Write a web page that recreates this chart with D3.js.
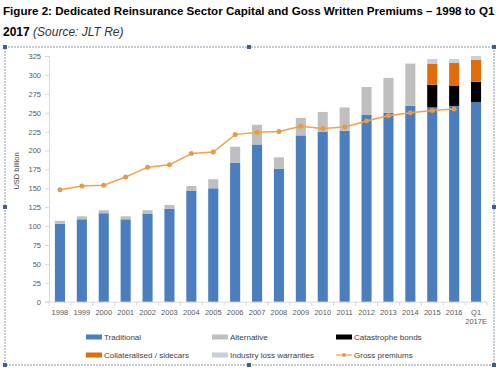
<!DOCTYPE html>
<html>
<head>
<meta charset="utf-8">
<script src="https://cdn.jsdelivr.net/npm/d3@7"></script>
<style>
body{margin:0;background:#fff;}
.plot{width:500px;height:377px;}
text{font-family:"Liberation Sans",Arial,sans-serif;}
</style>
</head>
<body>
<div class="plot"></div>
<script>
var years = ['1998','1999','2000','2001','2002','2003','2004','2005','2006','2007','2008','2009','2010','2011','2012','2013','2014','2015','2016','Q1 2017E'];
var traditional = [103,109,117,109,116,123,147,150,184,208,176,220,225,226,247,250,259,257,259,264];
var alternative = [4,4,4,4,5,5,6,12,21,26,15,23,26,31,37,46,56,0,0,0];
var catBonds = [0,0,0,0,0,0,0,0,0,0,0,0,0,0,0,0,0,30,27,27];
var collateralised = [0,0,0,0,0,0,0,0,0,0,0,0,0,0,0,0,0,28,30,29];
var ilw = [0,0,0,0,0,0,0,0,0,0,0,0,0,0,0,0,0,6,5,5];
var grossPremiums = [148,153,154,165,178,181,196,198,221,224,225,232,229,231,239,246,250,253,255,null];
var yTicks = [0,25,50,75,100,125,150,175,200,225,250,275,300,325];

var seriesNames = ['Traditional','Alternative','Catastrophe bonds','Collateralised / sidecars','Industry loss warranties'];
var colors = ['#4a7ebe','#bfbfbf','#000000','#e36c0a','#c6d0dc'];
var lineColor = '#f2a24a';

var W = 500, H = 377;
var m = {l:49, r:487, t:56, b:301.7};

var table = years.map(function(y,i){
    return {year:y, 'Traditional':traditional[i], 'Alternative':alternative[i],
        'Catastrophe bonds':catBonds[i], 'Collateralised / sidecars':collateralised[i],
        'Industry loss warranties':ilw[i]};
});
var stacked = d3.stack().keys(seriesNames)(table);

var svg = d3.select('.plot').append('svg')
    .attr('width',W)
    .attr('height',H);

// title
var t1 = svg.append('text').attr('x',3).attr('y',14.5)
    .style('font-weight','bold').style('font-size','12px').attr('fill','#000');
t1.text('Figure 2: Dedicated Reinsurance Sector Capital and Goss Written Premiums \u2013 1998 to Q1');
// shrink the font a bit so the whole line stays on the page
var fs = 12;
while(t1.node().getComputedTextLength() > 493 && fs > 9){
    fs -= 0.1;
    t1.style('font-size', fs+'px');
}
var t2 = svg.append('text').attr('x',3).attr('y',36).style('font-size','12px').attr('fill','#000');
t2.append('tspan').style('font-weight','bold').text('2017');
t2.append('tspan').style('font-style','italic').attr('fill','#333').text(' (Source: JLT Re)');

var x = d3.scaleBand().domain(years).range([m.l,m.r]).paddingInner(0.54).paddingOuter(0.27);
var y = d3.scaleLinear().domain([0,325]).range([m.b,m.t]);

// axes
var yAxis = svg.append('g').attr('transform','translate('+m.l+',0)')
    .call(d3.axisLeft(y).tickValues(yTicks).tickSize(4).tickPadding(4));
yAxis.select('.domain').attr('stroke','#d9d9d9');
yAxis.selectAll('.tick line').attr('stroke','#d9d9d9');
yAxis.selectAll('.tick text').attr('fill','#595959').style('font-size','7.5px')
    .style('font-family','"Liberation Sans",Arial,sans-serif');

var xAxis = svg.append('g').attr('transform','translate(0,'+m.b+')')
    .call(d3.axisBottom(x).tickSize(0).tickPadding(8));
xAxis.select('.domain').attr('stroke','#d9d9d9');
xAxis.selectAll('.tick text').attr('fill','#595959').style('font-size','7.5px')
    .style('font-family','"Liberation Sans",Arial,sans-serif')
    .each(function(d){
        if(d.indexOf(' ')>0){
            var parts = d.split(' '), el = d3.select(this);
            el.text(null);
            el.append('tspan').attr('x',0).text(parts[0]);
            el.append('tspan').attr('x',0).attr('dy','1.25em').text(parts[1]);
        }
    });
// small ticks between categories
var step = x.step();
svg.append('g').selectAll('line')
    .data(d3.range(years.length+1))
    .enter().append('line')
    .attr('x1',function(i){return m.l + i*step})
    .attr('x2',function(i){return m.l + i*step})
    .attr('y1',m.b).attr('y2',m.b+4)
    .attr('stroke','#d9d9d9');

svg.append('text')
    .attr('transform','translate(19,171) rotate(-90)')
    .attr('text-anchor','middle')
    .attr('fill','#404040')
    .style('font-size','7.5px')
    .text('USD billion');

// bars
svg.append('g').selectAll('g')
    .data(stacked)
    .enter().append('g')
    .attr('fill',function(d,i){return colors[i]})
    .selectAll('rect')
    .data(function(d){return d})
    .enter().append('rect')
    .attr('x',function(d){return x(d.data.year)})
    .attr('width',x.bandwidth())
    .attr('y',function(d){return y(d[1])})
    .attr('height',function(d){return y(d[0]) - y(d[1])});

// gross premiums line
var pts = years.map(function(yr,i){return {year:yr, v:grossPremiums[i]}})
    .filter(function(d){return d.v!=null});
var line = d3.line()
    .x(function(d){return x(d.year)+x.bandwidth()/2})
    .y(function(d){return y(d.v)});
svg.append('path').datum(pts)
    .attr('d',line)
    .attr('fill','none')
    .attr('stroke',lineColor)
    .attr('stroke-width',1.5);
svg.append('g').selectAll('circle')
    .data(pts)
    .enter().append('circle')
    .attr('cx',function(d){return x(d.year)+x.bandwidth()/2})
    .attr('cy',function(d){return y(d.v)})
    .attr('r',2.5)
    .attr('fill','#e99a45');

// legend
var legItems = seriesNames.concat(['Gross premiums']);
var legPos = [[86,337],[212,337],[336,337],[86,355],[212,355],[336,355]];
var leg = svg.append('g').selectAll('g')
    .data(legItems)
    .enter().append('g')
    .attr('transform',function(d,i){return 'translate('+legPos[i][0]+','+legPos[i][1]+')'});
leg.each(function(d,i){
    var g = d3.select(this);
    if(i<5){
        g.append('rect').attr('x',0).attr('y',-2.5).attr('width',16).attr('height',5).attr('fill',colors[i]);
    } else {
        g.append('line').attr('x1',0).attr('x2',16).attr('y1',0).attr('y2',0)
            .attr('stroke',lineColor).attr('stroke-width',1.2);
        g.append('circle').attr('cx',8).attr('cy',0).attr('r',2).attr('fill','#e99a45');
    }
    g.append('text').attr('x',18).attr('y',3).attr('fill','#404040')
        .style('font-size','8px').text(d);
});

// frame with handles
svg.append('rect')
    .attr('x',5).attr('y',47).attr('width',489).attr('height',318)
    .attr('fill','none').attr('stroke','#8a96aa').attr('stroke-dasharray','2,1');
var handles = [[5,47],[249,47],[494,47],[5,207],[494,207],[5,365],[249,365],[494,365]];
svg.append('g').selectAll('rect')
    .data(handles)
    .enter().append('rect')
    .attr('x',function(d){return d[0]-2})
    .attr('y',function(d){return d[1]-2})
    .attr('width',4).attr('height',4)
    .attr('fill','#3f5d8f');
</script>
</body>
</html>
